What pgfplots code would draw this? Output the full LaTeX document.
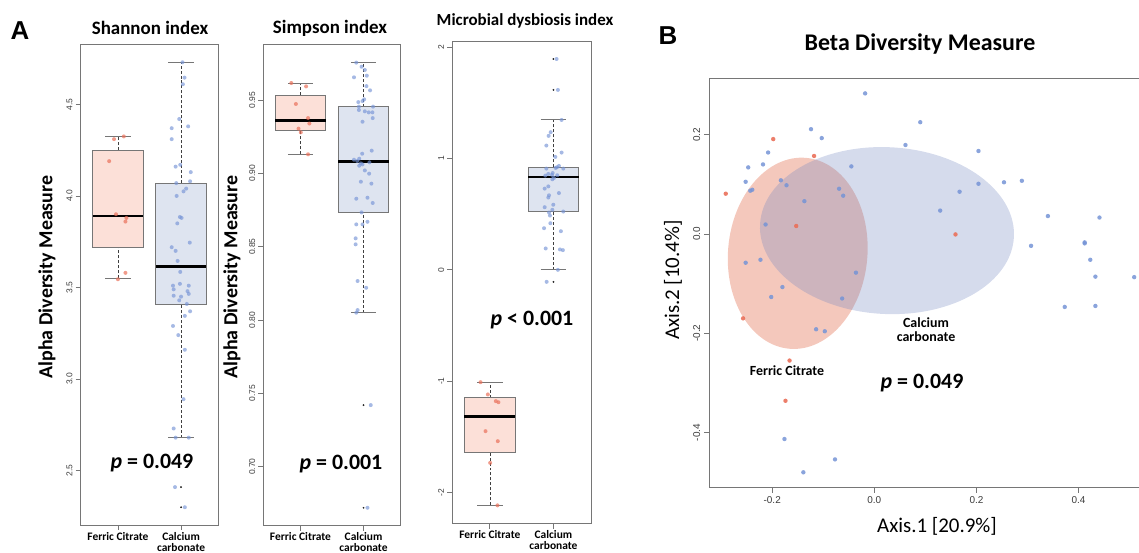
\documentclass[border=0pt]{standalone}
\usepackage{fontspec}
\setmainfont{Carlito}
\newfontfamily\arialf{Liberation Sans}
\usepackage{pgfplots}
\pgfplotsset{compat=1.18}
\usetikzlibrary{shapes.geometric}
\definecolor{boxF}{RGB}{252,224,216}
\definecolor{boxC}{RGB}{222,228,240}
\definecolor{ptF}{RGB}{234,112,90}
\definecolor{ptC}{RGB}{118,148,214}
\definecolor{frameC}{RGB}{118,118,118}
\definecolor{ellR}{RGB}{224,98,64}
\definecolor{ellB}{RGB}{115,135,192}
\definecolor{tickT}{RGB}{60,60,60}
\pgfplotsset{
  panelA/.style={
    scale only axis, anchor=south west,
    axis line style={draw=frameC, line width=0.9bp},
    every tick/.style={draw=frameC, line width=0.8bp},
    tick align=outside, major tick length=5bp,
    xtick pos=bottom, ytick pos=left,
    xmin=0.41, xmax=2.59,
    xtick={1,2}, xticklabels={Ferric Citrate, {Calcium\\carbonate}},
    xticklabel style={font=\bfseries\fontsize{11.5}{11}\selectfont, align=center, text=black, anchor=north, inner sep=2bp},
    yticklabel style={rotate=90, anchor=south, font=\arialf\fontsize{8.5}{9}\selectfont, text=tickT, inner sep=3bp},
    clip=false,
  },
  whisk/.style={densely dashed, black!75, line width=0.6bp},
  cap/.style={solid, frameC, line width=1bp},
  boxF/.style={fill=boxF, draw=frameC, line width=0.9bp},
  boxC/.style={fill=boxC, draw=frameC, line width=0.9bp},
  med/.style={black, line width=2.6bp},
  jitF/.style={only marks, mark=*, mark size=2bp, color=ptF, mark options={fill opacity=0.7, draw opacity=0}},
  jitC/.style={only marks, mark=*, mark size=2bp, color=ptC, mark options={fill opacity=0.65, draw opacity=0}},
  outl/.style={only marks, mark=*, mark size=0.7bp, color=black!85},
}
\begin{document}
\begin{tikzpicture}
\useasboundingbox (0bp,0bp) rectangle (1139bp,553bp);

% ---------- Shannon ----------
\begin{axis}[panelA, at={(80.7bp,28bp)}, width=137.6bp, height=480.5bp,
  ymin=2.203, ymax=4.827, ytick={2.5,3,3.5,4,4.5}, yticklabels={2.5,3.0,3.5,4.0,4.5}]
% Ferric citrate: 3.55 / 3.72 / 3.89 / 4.25 / 4.325
\addplot[whisk] coordinates {(1,3.55) (1,3.72)};
\addplot[whisk] coordinates {(1,4.25) (1,4.325)};
\addplot[cap] coordinates {(0.8,3.55) (1.2,3.55)};
\addplot[cap] coordinates {(0.8,4.325) (1.2,4.325)};
\addplot[boxF] coordinates {(0.6,3.72) (1.4,3.72) (1.4,4.25) (0.6,4.25)} -- cycle;
\addplot[med] coordinates {(0.6,3.89) (1.4,3.89)};
% Calcium carbonate: 2.68 / 3.41 / 3.615 / 4.07 / 4.73
\addplot[whisk] coordinates {(2,2.68) (2,3.41)};
\addplot[whisk] coordinates {(2,4.07) (2,4.73)};
\addplot[cap] coordinates {(1.8,2.68) (2.2,2.68)};
\addplot[cap] coordinates {(1.8,4.73) (2.2,4.73)};
\addplot[boxC] coordinates {(1.6,3.41) (2.4,3.41) (2.4,4.07) (1.6,4.07)} -- cycle;
\addplot[med] coordinates {(1.6,3.615) (2.4,3.615)};
\addplot[outl] table {
x y
2 2.41
2 2.30
};
\addplot[jitF] table {
x y
0.938 4.31
1.093 4.325
0.861 4.19
0.969 3.90
1.134 3.88
1.119 3.86
1.119 3.58
1.000 3.545
};
\addplot[jitC] table {
x y
2.023 4.73
2.055 4.646
2.029 4.61
1.971 4.42
1.852 4.37
2.112 4.38
1.852 4.31
1.914 4.16
1.987 4.17
2.154 4.13
2.143 4.08
1.924 4.07
2.081 4.04
2.039 4.025
1.930 4.00
1.982 3.885
2.008 3.88
1.940 3.85
2.138 3.745
1.852 3.72
1.914 3.70
1.945 3.645
1.987 3.585
1.872 3.51
1.982 3.52
2.122 3.51
1.883 3.49
2.102 3.48
2.122 3.465
1.883 3.455
2.000 3.45
1.971 3.43
2.091 3.41
2.143 3.37
2.060 3.345
1.872 3.29
1.956 3.24
2.060 3.16
2.039 2.89
1.883 2.73
1.914 2.68
2.122 2.68
1.904 2.41
2.060 2.30
};
\end{axis}

% ---------- Simpson ----------
\begin{axis}[panelA, at={(263.3bp,27.5bp)}, width=137.4bp, height=480.6bp,
  ymin=0.6599, ymax=0.9876, ytick={0.70,0.75,0.80,0.85,0.90,0.95}, yticklabels={0.70,0.75,0.80,0.85,0.90,0.95}]
% Ferric citrate: 0.913 / 0.9293 / 0.9359 / 0.9532 / 0.9614
\addplot[whisk] coordinates {(1,0.913) (1,0.9293)};
\addplot[whisk] coordinates {(1,0.9532) (1,0.9614)};
\addplot[cap] coordinates {(0.8,0.913) (1.2,0.913)};
\addplot[cap] coordinates {(0.8,0.9614) (1.2,0.9614)};
\addplot[boxF] coordinates {(0.6,0.9293) (1.4,0.9293) (1.4,0.9532) (0.6,0.9532)} -- cycle;
\addplot[med] coordinates {(0.6,0.9359) (1.4,0.9359)};
% Calcium carbonate: 0.805 / 0.8734 / 0.9082 / 0.9455 / 0.9755
\addplot[whisk] coordinates {(2,0.805) (2,0.8734)};
\addplot[whisk] coordinates {(2,0.9455) (2,0.9755)};
\addplot[cap] coordinates {(1.8,0.805) (2.2,0.805)};
\addplot[cap] coordinates {(1.8,0.9755) (2.2,0.9755)};
\addplot[boxC] coordinates {(1.6,0.8734) (2.4,0.8734) (2.4,0.9455) (1.6,0.9455)} -- cycle;
\addplot[med] coordinates {(1.6,0.9082) (2.4,0.9082)};
\addplot[outl] table {
x y
2 0.742
2 0.672
};
\addplot[jitF] table {
x y
0.854 0.9616
1.089 0.9593
0.927 0.9473
1.120 0.9377
1.141 0.9340
0.969 0.9305
1.005 0.9280
1.120 0.9130
};
\addplot[jitC] table {
x y
1.885 0.9755
1.969 0.9727
2.021 0.9705
1.849 0.9655
2.052 0.9666
2.047 0.9595
2.104 0.9566
2.010 0.9505
1.984 0.9493
1.917 0.9486
2.151 0.9455
1.927 0.9455
1.927 0.9432
2.021 0.9423
2.083 0.9416
2.141 0.9416
2.146 0.9377
1.984 0.9352
2.130 0.9155
1.979 0.9134
1.849 0.9093
1.932 0.9100
1.901 0.9084
1.958 0.9068
1.932 0.9052
1.984 0.9061
2.094 0.9075
2.021 0.9020
2.089 0.8998
1.958 0.8943
2.125 0.8930
1.885 0.8827
2.063 0.8834
2.146 0.8798
1.969 0.8734
1.885 0.8652
1.984 0.8652
2.063 0.8670
1.875 0.8557
1.875 0.8516
1.906 0.8266
2.042 0.8220
1.906 0.8068
1.885 0.8050
2.115 0.7420
2.063 0.6720
};
\end{axis}

% ---------- MDI ----------
\begin{axis}[panelA, at={(452.3bp,29.5bp)}, width=138.7bp, height=482.3bp,
  ymin=-2.28, ymax=2.055, ytick={-2,-1,0,1,2}, yticklabels={-2,-1,0,1,2}]
% Ferric citrate: -2.117 / -1.637 / -1.32 / -1.15 / -1.01
\addplot[whisk] coordinates {(1,-2.117) (1,-1.637)};
\addplot[whisk] coordinates {(1,-1.15) (1,-1.01)};
\addplot[cap] coordinates {(0.8,-2.117) (1.2,-2.117)};
\addplot[cap] coordinates {(0.8,-1.01) (1.2,-1.01)};
\addplot[boxF] coordinates {(0.6,-1.637) (1.4,-1.637) (1.4,-1.15) (0.6,-1.15)} -- cycle;
\addplot[med] coordinates {(0.6,-1.32) (1.4,-1.32)};
% Calcium carbonate: 0.0 / 0.527 / 0.835 / 0.922 / 1.347
\addplot[whisk] coordinates {(2,0.0) (2,0.527)};
\addplot[whisk] coordinates {(2,0.922) (2,1.347)};
\addplot[cap] coordinates {(1.8,0.0) (2.2,0.0)};
\addplot[cap] coordinates {(1.8,1.347) (2.2,1.347)};
\addplot[boxC] coordinates {(1.6,0.527) (2.4,0.527) (2.4,0.922) (1.6,0.922)} -- cycle;
\addplot[med] coordinates {(1.6,0.835) (2.4,0.835)};
\addplot[outl] table {
x y
2 1.895
2 1.617
2 -0.108
};
\addplot[jitF] table {
x y
0.854 -1.010
0.969 -1.120
1.094 -1.180
1.135 -1.190
0.932 -1.450
1.125 -1.540
1.005 -1.735
1.120 -2.117
};
\addplot[jitC] table {
x y
2.128 1.347
1.956 1.237
1.924 1.204
1.888 1.117
2.128 1.054
2.029 1.015
1.888 0.910
2.055 0.922
2.086 0.934
2.154 0.910
2.034 0.916
1.919 0.862
1.987 0.870
1.977 0.853
2.060 0.850
1.872 0.847
2.008 0.826
1.982 0.814
1.919 0.750
1.862 0.730
1.930 0.670
1.919 0.650
2.086 0.690
1.997 0.585
1.862 0.563
1.982 0.539
2.154 0.524
1.930 0.515
1.945 0.488
1.951 0.419
1.852 0.374
2.117 0.347
1.878 0.192
2.102 0.183
2.148 0.177
2.070 0.000
1.893 -0.108
2.049 1.895
2.070 1.617
};
\end{axis}

% ---------- Panel B ----------
\begin{axis}[scale only axis, anchor=south west, at={(709.4bp,65.3bp)}, width=454.9bp, height=409.4bp,
  xmin=-0.323, xmax=0.568, ymin=-0.511, ymax=0.3134,
  axis line style={draw=frameC, line width=0.9bp},
  every tick/.style={draw=frameC, line width=0.8bp},
  tick align=outside, major tick length=5bp,
  xtick pos=bottom, ytick pos=left,
  xtick={-0.2,0,0.2,0.4}, xticklabels={-0.2,0.0,0.2,0.4},
  ytick={-0.4,-0.2,0,0.2}, yticklabels={-0.4,-0.2,0.0,0.2},
  xticklabel style={font=\arialf\fontsize{10}{10}\selectfont, text=tickT, inner sep=4bp},
  yticklabel style={rotate=90, anchor=south, font=\arialf\fontsize{10}{10}\selectfont, text=tickT, inner sep=4bp},
  clip=false]
\addplot[only marks, mark=*, mark size=2.2bp, color=ptC, mark options={fill opacity=0.85, draw opacity=0}] table {
x y
-0.018 0.283
0.090 0.225
-0.124 0.211
-0.103 0.193
0.061 0.179
-0.208 0.164
0.204 0.167
-0.247 0.134
-0.218 0.140
-0.045 0.136
-0.252 0.105
-0.183 0.108
-0.172 0.098
-0.243 0.087
-0.239 0.089
-0.069 0.091
-0.061 0.077
0.204 0.101
0.254 0.104
0.289 0.107
0.167 0.085
-0.137 0.066
0.129 0.047
-0.213 0.019
0.340 0.036
0.441 0.033
0.307 -0.024
0.412 -0.017
0.412 -0.019
0.423 -0.052
-0.252 -0.058
-0.223 -0.052
-0.036 -0.078
0.433 -0.086
0.509 -0.087
-0.180 -0.107
-0.202 -0.127
-0.063 -0.130
0.373 -0.147
0.433 -0.145
-0.114 -0.192
-0.097 -0.196
-0.176 -0.413
-0.077 -0.454
-0.139 -0.480
};
\addplot[only marks, mark=*, mark size=2.2bp, color=ptF, mark options={fill opacity=0.9, draw opacity=0}] table {
x y
-0.291 0.081
-0.198 0.191
-0.118 0.157
-0.153 0.016
0.159 -0.001
-0.257 -0.170
-0.166 -0.255
-0.174 -0.336
};
\node[ellipse, draw=none, fill=ellR, fill opacity=0.35, inner sep=0pt, outer sep=0pt,
  minimum width=139.4bp, minimum height=191.6bp, rotate=-5] at (axis cs:-0.150,-0.039) {};
\node[ellipse, draw=none, fill=ellB, fill opacity=0.30, inner sep=0pt, outer sep=0pt,
  minimum width=254.2bp, minimum height=166.8bp, rotate=-2.8] at (axis cs:0.0248,0.0067) {};
\end{axis}

% ---------- Texts ----------
\node[font=\arialf\bfseries\fontsize{26}{26}\selectfont] at (20bp,522bp) {A};
\node[font=\arialf\bfseries\fontsize{26}{26}\selectfont] at (668bp,517bp) {B};
\node[font=\bfseries\fontsize{19}{19}\selectfont] at (150bp,525bp) {Shannon index};
\node[font=\bfseries\fontsize{19}{19}\selectfont] at (330bp,525bp) {Simpson index};
\node[font=\bfseries\fontsize{17}{17}\selectfont] at (525bp,532bp) {Microbial dysbiosis index};
\node[font=\bfseries\fontsize{24}{24}\selectfont] at (920bp,509bp) {Beta Diversity Measure};
\node[font=\bfseries\fontsize{20}{20}\selectfont, rotate=90] at (47bp,276bp) {Alpha Diversity Measure};
\node[font=\bfseries\fontsize{20}{20}\selectfont, rotate=90] at (232bp,276bp) {Alpha Diversity Measure};
\node[font=\bfseries\fontsize{22}{22}\selectfont] at (152bp,90.3bp) {{\itshape p} = 0.049};
\node[font=\bfseries\fontsize{22}{22}\selectfont] at (341bp,89bp) {{\itshape p} = 0.001};
\node[font=\bfseries\fontsize{22}{22}\selectfont] at (532bp,233bp) {{\itshape p} < 0.001};
\node[font=\bfseries\fontsize{22}{22}\selectfont] at (922bp,169.7bp) {{\itshape p} = 0.049};
\node[font=\bfseries\fontsize{14}{13}\selectfont] at (787bp,182.3bp) {Ferric Citrate};
\node[font=\bfseries\fontsize{14}{14}\selectfont, align=center] at (926bp,223bp) {Calcium\\carbonate};
\node[font=\fontsize{21}{21}\selectfont, rotate=90] at (673bp,273bp) {Axis.2 [10.4\%]};
\node[font=\fontsize{21}{21}\selectfont] at (937bp,26.3bp) {Axis.1 [20.9\%]};
\end{tikzpicture}
\end{document}
